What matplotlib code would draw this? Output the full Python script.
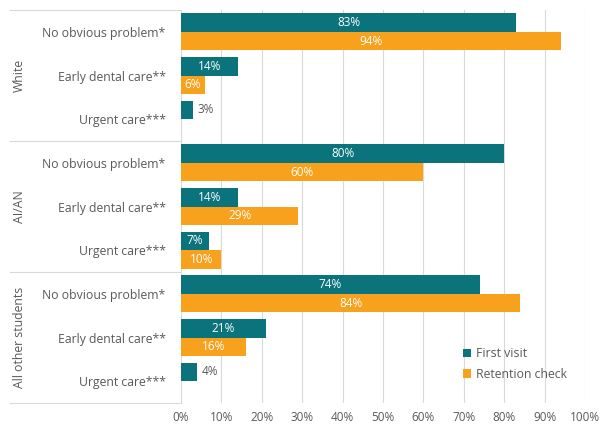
import matplotlib
matplotlib.use('Agg')
import matplotlib.pyplot as plt
import matplotlib.transforms as mtransforms
import numpy as np

plt.rcParams['font.family'] = ['Open Sans', 'DejaVu Sans']

groups = ['White', 'AI/AN', 'All other students']
categories = ['No obvious problem*', 'Early dental care**', 'Urgent care***']
first_visit = [83, 14, 3, 80, 14, 7, 74, 21, 4]
retention = [94, 6, 0, 60, 29, 10, 84, 16, 0]
series_names = ['First visit', 'Retention check']

teal = '#0b737c'
orange = '#f7a11d'
grey_txt = '#595959'
line_col = '#d9d9d9'

fig = plt.figure(figsize=(6.02, 4.25), dpi=100)
W, H = 602, 425
ax = fig.add_axes([181 / W, 1 - 403 / H, (585 - 181) / W, (403 - 10) / H])

n = len(first_visit)
y = np.arange(n)
h = 0.42
b1 = ax.barh(y - h / 2, first_visit, height=h, color=teal, label=series_names[0])
b2 = ax.barh(y + h / 2, retention, height=h, color=orange, label=series_names[1])

# data labels: white inside, grey outside for the tiny ones
for bars, vals in ((b1, first_visit), (b2, retention)):
    for bar, v in zip(bars, vals):
        if v == 0:
            continue
        cy = bar.get_y() + bar.get_height() / 2
        if v < 5:
            ax.text(v + 1, cy, f'{v}%', ha='left', va='center', fontsize=8.5, color=grey_txt)
        else:
            ax.text(v / 2, cy, f'{v}%', ha='center', va='center', fontsize=8.5, color='white')

ax.set_xlim(0, 100)
ax.set_ylim(n - 0.5, -0.5)
ax.set_xticks(np.arange(0, 101, 10))
ax.set_xticklabels([f'{t}%' for t in range(0, 101, 10)], fontsize=8.5, color=grey_txt)
ax.set_yticks(y)
ax.set_yticklabels(categories * len(groups), fontsize=8.8, color=grey_txt)
ax.tick_params(axis='y', length=0, pad=11)
ax.tick_params(axis='x', length=0, pad=6)
ax.xaxis.grid(True, color=line_col, linewidth=0.8)
ax.set_axisbelow(True)
for s in ax.spines.values():
    s.set_visible(False)

# group separators and group names on the left
trans = mtransforms.blended_transform_factory(ax.transAxes, ax.transData)
x0 = (10 - 181) / (585 - 181)
for k in range(len(groups) + 1):
    yy = k * 3 - 0.5
    ax.plot([x0, 0], [yy, yy], transform=trans, color=line_col, linewidth=0.8, clip_on=False)
for k, g in enumerate(groups):
    ax.text((19 - 181) / (585 - 181), k * 3 + 1, g, transform=trans, rotation=90,
            ha='center', va='center', fontsize=8.8, color=grey_txt)

leg = ax.legend(loc='upper left', bbox_to_anchor=(0.67, 0.17), frameon=False,
                fontsize=8.8, handlelength=0.7, handleheight=0.7, handletextpad=0.4,
                labelspacing=0.6, labelcolor=grey_txt)

fig.savefig('out.png', dpi=100)
